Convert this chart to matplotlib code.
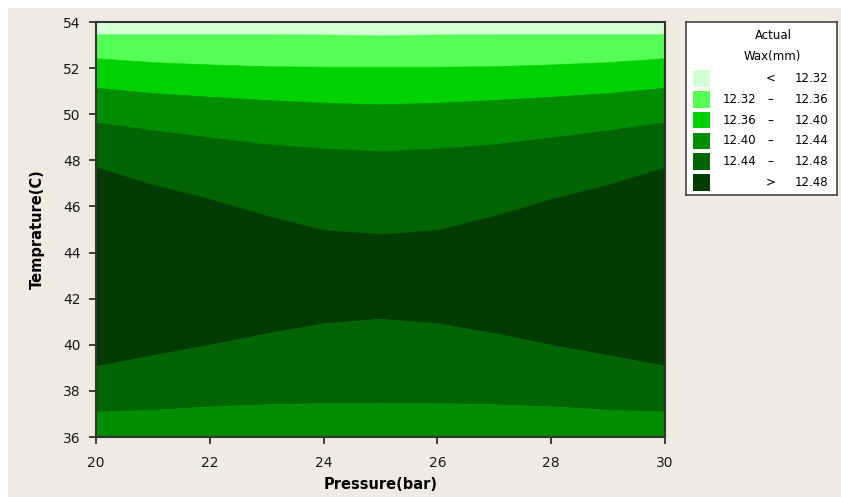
import numpy as np
import matplotlib
matplotlib.use('Agg')
import matplotlib.pyplot as plt
from matplotlib.patches import Rectangle

pressure = [20, 21, 22, 23, 24, 25, 26, 27, 28, 29, 30]

# temperature of each contour boundary along pressure
b_1232 = [53.47, 53.47, 53.47, 53.47, 53.46, 53.42, 53.46, 53.47, 53.47, 53.47, 53.47]
b_1236 = [52.43, 52.26, 52.16, 52.08, 52.06, 52.06, 52.06, 52.08, 52.16, 52.26, 52.43]
b_1240 = [51.15, 50.92, 50.76, 50.62, 50.50, 50.43, 50.50, 50.62, 50.76, 50.92, 51.15]
b_1244_top = [49.65, 49.31, 49.00, 48.70, 48.52, 48.40, 48.52, 48.70, 49.00, 49.31, 49.65]
b_1248_top = [47.70, 46.95, 46.33, 45.60, 44.98, 44.81, 44.98, 45.60, 46.33, 46.95, 47.70]
b_1248_bot = [39.08, 39.55, 40.00, 40.50, 40.93, 41.13, 40.93, 40.50, 40.00, 39.55, 39.08]
b_1244_bot = [37.10, 37.18, 37.33, 37.42, 37.47, 37.48, 37.47, 37.42, 37.33, 37.18, 37.10]

levels = ['<', '12.32', '12.36', '12.40', '12.44', '>']
level_lo = ['', '12.32', '12.36', '12.40', '12.44', '']
level_hi = ['12.32', '12.36', '12.40', '12.44', '12.48', '12.48']
colors = ['#D4FFD4', '#55FF55', '#00D200', '#008E00', '#006400', '#003C00']

x_ticks = [20, 22, 24, 26, 28, 30]
y_ticks = [36, 38, 40, 42, 44, 46, 48, 50, 52, 54]

bg = '#EFEBE1'
W, H = 841, 497
fig = plt.figure(figsize=(W / 100, H / 100), dpi=100, facecolor='white')
# beige panel with a thin white margin at top/left
fig.patches.append(Rectangle((8 / W, 0), 1, 1 - 8 / H, transform=fig.transFigure,
                             facecolor=bg, edgecolor='none', zorder=-10))

ax = fig.add_axes([96 / W, (H - 437) / H, (665 - 96) / W, (437 - 22) / H])
p = np.array(pressure)
top = np.full(len(p), 54.0)
bot = np.full(len(p), 36.0)

bands = [
    (b_1232, top, colors[0]),
    (b_1236, b_1232, colors[1]),
    (b_1240, b_1236, colors[2]),
    (b_1244_top, b_1240, colors[3]),
    (b_1248_top, b_1244_top, colors[4]),
    (b_1248_bot, b_1248_top, colors[5]),
    (b_1244_bot, b_1248_bot, colors[4]),
    (bot, b_1244_bot, colors[3]),
]
for lo, hi, c in bands:
    ax.fill_between(p, lo, hi, facecolor=c, edgecolor=c, linewidth=0.5)

ax.set_xlim(20, 30)
ax.set_ylim(36, 54)
ax.set_xticks(x_ticks)
ax.set_yticks(y_ticks)
ax.tick_params(direction='out', length=5, width=1.2, labelsize=10, pad=6,
               colors='#222222', labelcolor='#1a1a1a')
ax.tick_params(axis='x', pad=9)
for s in ax.spines.values():
    s.set_linewidth(1.5)
    s.set_color('#333333')
ax.set_xlabel('Pressure(bar)', fontsize=10.5, fontweight='bold', labelpad=5)
ax.set_ylabel('Temprature(C)', fontsize=10.5, fontweight='bold', labelpad=13)

# legend drawn in its own pixel-space axes
lg = fig.add_axes([686 / W, (H - 195) / H, (837 - 686) / W, (195 - 22) / H])
lg.set_xlim(686, 837)
lg.set_ylim(195, 22)
lg.set_xticks([])
lg.set_yticks([])
lg.set_facecolor('white')
for s in lg.spines.values():
    s.set_linewidth(1.2)
    s.set_color('#444444')
lg.text(773, 35, 'Actual', ha='center', va='center', fontsize=8.5)
lg.text(772, 56, 'Wax(mm)', ha='center', va='center', fontsize=8.5)
for i in range(len(colors)):
    yc = 78.5 + i * 20.8
    lg.add_patch(Rectangle((693, yc - 8.3), 17, 16.5, facecolor=colors[i], edgecolor='none'))
    if level_lo[i]:
        lg.text(723, yc, level_lo[i], ha='left', va='center', fontsize=8.5)
        lg.text(770, yc, '\u2013', ha='center', va='center', fontsize=8.5)
    else:
        lg.text(771, yc, levels[i], ha='center', va='center', fontsize=8.5)
    lg.text(828, yc, level_hi[i], ha='right', va='center', fontsize=8.5)

fig.savefig('out.png', dpi=100, facecolor=fig.get_facecolor())
